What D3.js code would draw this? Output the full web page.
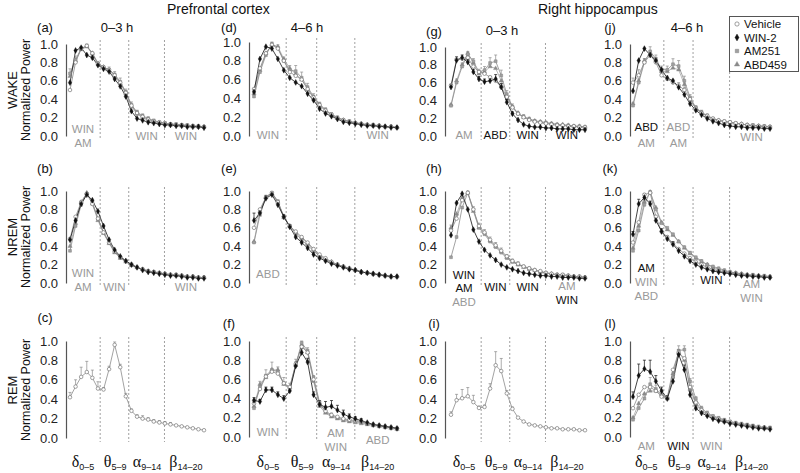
<!DOCTYPE html>
<html><head><meta charset="utf-8">
<script src="https://cdn.jsdelivr.net/npm/d3@7"></script>
<style>body{margin:0;background:#fff} svg{display:block} text{font-family:"Liberation Sans",Arial,Helvetica,sans-serif}</style>
</head><body><svg id="c" width="800" height="473"></svg>
<script>
// ---------------- DATA ----------------
const bins = [0.78,1.56,2.34,3.13,3.91,4.69,5.47,6.25,7.03,7.81,8.59,9.38,10.16,10.94,11.72,12.5,13.28,14.06,14.84,15.63,16.41,17.19,17.97,18.75,19.53];
const seriesNames = ["Vehicle","WIN-2","AM251","ABD459"];
const bandEdges = [5, 9, 14];
const bandLabels = [["δ","0–5"],["θ","5–9"],["α","9–14"],["β","14–20"]];
const yTicks = [0,0.2,0.4,0.6,0.8,1.0];
const stateLabels = ["WAKE","NREM","REM"];
const regionTitles = ["Prefrontal cortex","Right hippocampus"];
const timeLabels = ["0–3 h","4–6 h","0–3 h","4–6 h"];
const panelLetters = ["a","d","g","j","b","e","h","k","c","f","i","l"];

// WAKE, prefrontal 0-3 h
const aVeh = [0.50,0.80,0.95,0.98,0.90,0.79,0.75,0.72,0.66,0.58,0.47,0.33,0.25,0.21,0.18,0.16,0.15,0.14,0.13,0.12,0.12,0.11,0.11,0.10,0.10];
const aWin = [0.58,0.93,0.96,0.88,0.85,0.77,0.73,0.70,0.62,0.54,0.43,0.27,0.19,0.17,0.15,0.14,0.13,0.12,0.12,0.11,0.11,0.10,0.10,0.10,0.09];
const aAm  = [0.68,0.83,0.95,0.98,0.89,0.78,0.74,0.72,0.67,0.59,0.48,0.34,0.26,0.22,0.19,0.17,0.15,0.14,0.13,0.13,0.12,0.12,0.11,0.11,0.10];
const aAbd = [0.65,0.82,0.94,0.97,0.90,0.79,0.75,0.71,0.65,0.57,0.46,0.32,0.24,0.20,0.17,0.15,0.14,0.13,0.12,0.12,0.11,0.11,0.10,0.10,0.10];
const aAmErr = [0.05,0.04,0.02,0.02,0.02,0.02,0.02,0.03,0.03,0.04,0.03,0.03,0.02,0.02,0.02,0.01,0.01,0.01,0.01,0.01,0.01,0.01,0.01,0.01,0.01];
// WAKE, prefrontal 4-6 h
const dVeh = [0.50,0.72,0.88,0.97,0.93,0.80,0.68,0.64,0.60,0.50,0.41,0.33,0.27,0.23,0.19,0.17,0.15,0.14,0.13,0.12,0.11,0.11,0.10,0.10,0.09];
const dWin = [0.47,0.82,0.95,0.93,0.82,0.70,0.62,0.57,0.53,0.45,0.38,0.29,0.24,0.21,0.18,0.15,0.14,0.13,0.12,0.11,0.11,0.10,0.10,0.09,0.09];
const dAm  = [0.42,0.68,0.86,0.98,0.94,0.80,0.70,0.69,0.62,0.52,0.42,0.34,0.28,0.23,0.20,0.17,0.16,0.14,0.13,0.12,0.12,0.11,0.10,0.10,0.09];
const dAbd = [0.45,0.70,0.88,0.97,0.95,0.82,0.72,0.66,0.60,0.50,0.40,0.32,0.27,0.22,0.19,0.17,0.15,0.14,0.13,0.12,0.11,0.11,0.10,0.10,0.09];
const dAmErr = [0.03,0.04,0.03,0.02,0.03,0.04,0.05,0.06,0.06,0.04,0.03,0.02,0.02,0.02,0.01,0.01,0.01,0.01,0.01,0.01,0.01,0.01,0.01,0.01,0.01];
// WAKE, hippocampus 0-3 h
const gVeh = [0.57,0.86,0.87,0.88,0.78,0.72,0.70,0.66,0.62,0.55,0.44,0.32,0.25,0.21,0.18,0.16,0.15,0.14,0.13,0.12,0.12,0.11,0.11,0.10,0.10];
const gWin = [0.55,0.85,0.88,0.83,0.72,0.64,0.61,0.62,0.64,0.55,0.38,0.25,0.18,0.13,0.11,0.10,0.10,0.09,0.09,0.08,0.08,0.08,0.07,0.07,0.07];
const gAm  = [0.34,0.60,0.78,0.92,0.84,0.72,0.74,0.82,0.84,0.68,0.47,0.33,0.25,0.22,0.19,0.17,0.16,0.15,0.14,0.13,0.12,0.12,0.11,0.11,0.10];
const gAbd = [0.35,0.62,0.80,0.93,0.82,0.70,0.72,0.78,0.76,0.62,0.45,0.33,0.26,0.21,0.19,0.17,0.16,0.15,0.14,0.13,0.13,0.12,0.11,0.11,0.10];
const gWinErr = [0.03,0.04,0.03,0.03,0.03,0.03,0.03,0.05,0.05,0.04,0.03,0.02,0.01,0.01,0.01,0.01,0.01,0.01,0.01,0.01,0.01,0.01,0.01,0.01,0.01];
const gAmErr  = [0.02,0.04,0.04,0.03,0.03,0.03,0.04,0.06,0.07,0.06,0.04,0.03,0.02,0.02,0.02,0.01,0.01,0.01,0.01,0.01,0.01,0.01,0.01,0.01,0.01];
// WAKE, hippocampus 4-6 h
const jVeh = [0.58,0.66,0.80,0.88,0.80,0.66,0.62,0.58,0.55,0.50,0.40,0.30,0.25,0.22,0.19,0.17,0.16,0.15,0.14,0.13,0.12,0.11,0.11,0.10,0.10];
const jWin = [0.49,0.82,0.95,0.88,0.82,0.72,0.63,0.60,0.53,0.45,0.35,0.28,0.23,0.19,0.16,0.14,0.12,0.11,0.10,0.10,0.09,0.09,0.09,0.08,0.08];
const jAm  = [0.33,0.58,0.80,0.92,0.84,0.72,0.72,0.78,0.76,0.60,0.42,0.31,0.26,0.22,0.19,0.17,0.16,0.15,0.14,0.13,0.12,0.12,0.11,0.11,0.10];
const jAbd = [0.35,0.60,0.82,0.90,0.82,0.70,0.70,0.74,0.72,0.56,0.40,0.30,0.25,0.21,0.18,0.17,0.15,0.14,0.13,0.13,0.12,0.11,0.11,0.10,0.10];
const jVehErr = [0.05,0.06,0.04,0.04,0.03,0.03,0.03,0.03,0.03,0.03,0.02,0.02,0.02,0.01,0.01,0.01,0.01,0.01,0.01,0.01,0.01,0.01,0.01,0.01,0.01];
const jAmErr  = [0.03,0.04,0.04,0.05,0.04,0.04,0.04,0.06,0.06,0.05,0.03,0.02,0.02,0.02,0.01,0.01,0.01,0.01,0.01,0.01,0.01,0.01,0.01,0.01,0.01];
// NREM, prefrontal 0-3 h
const bVeh = [0.48,0.72,0.88,0.97,0.86,0.70,0.55,0.44,0.34,0.28,0.24,0.20,0.17,0.15,0.13,0.12,0.11,0.10,0.09,0.09,0.08,0.07,0.07,0.06,0.06];
const bWin = [0.47,0.68,0.86,0.96,0.90,0.78,0.62,0.47,0.36,0.29,0.24,0.20,0.17,0.14,0.12,0.11,0.10,0.09,0.08,0.08,0.07,0.06,0.06,0.05,0.05];
const bAm  = [0.35,0.62,0.85,0.97,0.88,0.70,0.55,0.44,0.34,0.28,0.24,0.20,0.17,0.15,0.13,0.12,0.11,0.10,0.09,0.09,0.08,0.07,0.07,0.06,0.06];
const bAbd = [0.40,0.65,0.88,0.98,0.86,0.68,0.54,0.43,0.33,0.27,0.23,0.19,0.17,0.15,0.13,0.12,0.11,0.10,0.09,0.08,0.08,0.07,0.07,0.06,0.06];
// NREM, prefrontal 4-6 h
const eVeh = [0.60,0.80,0.93,0.98,0.88,0.72,0.62,0.56,0.50,0.44,0.37,0.31,0.27,0.23,0.20,0.18,0.16,0.14,0.12,0.11,0.10,0.09,0.08,0.07,0.07];
const eWin = [0.68,0.76,0.92,0.96,0.85,0.72,0.61,0.50,0.44,0.38,0.31,0.27,0.24,0.21,0.19,0.17,0.15,0.14,0.12,0.11,0.10,0.09,0.08,0.07,0.07];
const eAm  = [0.44,0.74,0.94,0.98,0.89,0.72,0.62,0.54,0.47,0.41,0.35,0.29,0.25,0.22,0.20,0.17,0.15,0.14,0.12,0.11,0.10,0.09,0.08,0.07,0.07];
const eAbd = [0.45,0.78,0.93,0.97,0.88,0.71,0.62,0.55,0.49,0.43,0.36,0.30,0.26,0.23,0.20,0.18,0.16,0.14,0.12,0.11,0.10,0.09,0.08,0.07,0.07];
const eWinErr = [0.08,0.03,0.02,0.02,0.02,0.02,0.02,0.03,0.03,0.03,0.02,0.02,0.01,0.01,0.01,0.01,0.01,0.01,0.01,0.01,0.01,0.01,0.01,0.01,0.01];
// NREM, hippocampus 0-3 h
const hVeh = [0.57,0.70,0.90,0.98,0.80,0.62,0.55,0.47,0.41,0.35,0.29,0.24,0.21,0.18,0.16,0.14,0.13,0.11,0.10,0.09,0.09,0.08,0.07,0.07,0.06];
const hWin = [0.52,0.87,0.97,0.80,0.58,0.45,0.36,0.30,0.25,0.20,0.17,0.15,0.13,0.11,0.10,0.09,0.08,0.08,0.07,0.07,0.06,0.06,0.06,0.05,0.05];
const hAm  = [0.28,0.50,0.82,0.98,0.80,0.60,0.53,0.45,0.39,0.33,0.27,0.23,0.20,0.18,0.16,0.14,0.12,0.11,0.10,0.09,0.09,0.08,0.07,0.07,0.06];
const hAbd = [0.60,0.75,0.92,0.98,0.78,0.60,0.55,0.46,0.40,0.34,0.28,0.23,0.20,0.17,0.15,0.14,0.12,0.11,0.10,0.09,0.08,0.08,0.07,0.07,0.06];
const hVehErr = [0.06,0.05,0.03,0.02,0.03,0.03,0.03,0.03,0.03,0.03,0.02,0.02,0.02,0.01,0.01,0.01,0.01,0.01,0.01,0.01,0.01,0.01,0.01,0.01,0.01];
// NREM, hippocampus 4-6 h
const kVeh = [0.44,0.66,0.96,0.98,0.72,0.56,0.50,0.43,0.37,0.32,0.27,0.23,0.20,0.17,0.15,0.13,0.12,0.11,0.10,0.09,0.08,0.08,0.07,0.07,0.06];
const kWin = [0.53,0.86,0.93,0.86,0.68,0.56,0.48,0.42,0.35,0.29,0.24,0.20,0.17,0.15,0.13,0.12,0.11,0.10,0.09,0.08,0.08,0.07,0.07,0.06,0.06];
const kAm  = [0.35,0.57,0.85,0.99,0.80,0.65,0.60,0.53,0.45,0.39,0.33,0.28,0.24,0.20,0.18,0.16,0.14,0.12,0.11,0.10,0.09,0.09,0.08,0.08,0.07];
const kAbd = [0.38,0.62,0.88,0.99,0.82,0.66,0.58,0.52,0.45,0.38,0.32,0.27,0.23,0.20,0.17,0.15,0.13,0.12,0.11,0.10,0.09,0.08,0.08,0.07,0.07];
const kWinErr = [0.03,0.05,0.04,0.03,0.03,0.03,0.03,0.03,0.02,0.02,0.02,0.02,0.01,0.01,0.01,0.01,0.01,0.01,0.01,0.01,0.01,0.01,0.01,0.01,0.01];
// REM, prefrontal 0-3 h (vehicle only)
const cVeh = [0.42,0.53,0.63,0.68,0.62,0.51,0.50,0.71,0.96,0.73,0.43,0.28,0.22,0.20,0.19,0.17,0.16,0.15,0.14,0.13,0.12,0.11,0.10,0.09,0.08];
const cVehErr = [0.05,0.07,0.10,0.11,0.08,0.07,0.02,0.03,0.03,0.03,0.03,0.02,0.02,0.03,0.02,0.02,0.02,0.02,0.02,0.01,0.01,0.01,0.01,0.01,0.01];
// REM, prefrontal 4-6 h
const fVeh = [0.35,0.50,0.63,0.68,0.66,0.56,0.52,0.76,0.94,0.88,0.60,0.34,0.27,0.23,0.21,0.19,0.18,0.17,0.16,0.14,0.13,0.12,0.11,0.10,0.09];
const fWin = [0.38,0.37,0.49,0.49,0.44,0.40,0.48,0.74,0.88,0.78,0.44,0.34,0.31,0.32,0.28,0.24,0.21,0.19,0.17,0.15,0.13,0.12,0.11,0.10,0.09];
const fAm  = [0.30,0.52,0.64,0.70,0.68,0.56,0.50,0.75,0.98,0.90,0.62,0.36,0.26,0.22,0.20,0.18,0.17,0.16,0.15,0.14,0.13,0.12,0.11,0.10,0.09];
const fAbd = [0.32,0.55,0.62,0.70,0.70,0.55,0.52,0.75,0.96,0.88,0.58,0.32,0.25,0.21,0.19,0.17,0.16,0.15,0.14,0.13,0.12,0.11,0.10,0.09,0.08];
const fVehErr = [0.04,0.08,0.07,0.10,0.07,0.06,0.04,0.05,0.06,0.05,0.04,0.02,0.02,0.02,0.01,0.01,0.01,0.01,0.01,0.01,0.01,0.01,0.01,0.01,0.01];
const fWinErr = [0.03,0.02,0.03,0.03,0.03,0.03,0.03,0.04,0.04,0.04,0.03,0.04,0.06,0.06,0.05,0.04,0.03,0.02,0.02,0.01,0.01,0.01,0.01,0.01,0.01];
// REM, hippocampus 0-3 h (vehicle only)
const iVeh = [0.24,0.39,0.41,0.43,0.37,0.31,0.32,0.51,0.75,0.69,0.46,0.30,0.21,0.17,0.14,0.13,0.12,0.11,0.10,0.10,0.09,0.09,0.09,0.08,0.08];
const iVehErr = [0.03,0.06,0.09,0.09,0.07,0.02,0.02,0.05,0.14,0.13,0.03,0.02,0.01,0.01,0.01,0.01,0.01,0.01,0.01,0.01,0.01,0.01,0.01,0.01,0.01];
// REM, hippocampus 4-6 h
const lVeh = [0.30,0.44,0.52,0.52,0.48,0.42,0.41,0.70,0.88,0.82,0.52,0.36,0.28,0.24,0.21,0.19,0.17,0.16,0.14,0.13,0.12,0.11,0.10,0.10,0.09];
const lWin = [0.42,0.64,0.71,0.68,0.58,0.48,0.40,0.58,0.86,0.70,0.44,0.30,0.25,0.22,0.19,0.17,0.16,0.14,0.13,0.12,0.11,0.10,0.09,0.09,0.08];
const lAm  = [0.18,0.30,0.40,0.55,0.50,0.44,0.40,0.62,0.90,0.91,0.58,0.40,0.30,0.25,0.22,0.20,0.18,0.16,0.15,0.14,0.13,0.12,0.11,0.10,0.10];
const lAbd = [0.20,0.35,0.45,0.48,0.48,0.44,0.40,0.66,0.88,0.80,0.50,0.34,0.27,0.23,0.20,0.18,0.16,0.15,0.14,0.13,0.12,0.11,0.10,0.09,0.09];
const lWinErr = [0.05,0.12,0.09,0.12,0.06,0.04,0.03,0.04,0.05,0.05,0.04,0.03,0.02,0.02,0.02,0.01,0.01,0.01,0.01,0.01,0.01,0.01,0.01,0.01,0.01];
const lAmErr  = [0.03,0.04,0.05,0.07,0.04,0.03,0.03,0.05,0.05,0.04,0.03,0.02,0.02,0.02,0.01,0.01,0.01,0.01,0.01,0.01,0.01,0.01,0.01,0.01,0.01];

// Significance annotations: panel, band index, text, dark(1)/gray(0), vertical offset
const annotations = [
 ["a",0,"WIN",0,-7],["a",0,"AM",0,7],["a",2,"WIN",0,0],["a",3,"WIN",0,0],
 ["d",0,"WIN",0,-1],["d",3,"WIN",0,-1],
 ["g",0,"AM",0,-1],["g",1,"ABD",1,-1],["g",2,"WIN",1,-1],["g",3,"WIN",1,-1],
 ["j",0,"ABD",1,-9],["j",0,"AM",0,7],["j",1,"ABD",0,-9],["j",1,"AM",0,7],["j",3,"WIN",0,1],
 ["b",0,"WIN",0,-10],["b",0,"AM",0,4],["b",1,"WIN",0,4],["b",3,"WIN",0,4],
 ["e",0,"ABD",0,-9],
 ["h",0,"WIN",1,-8.5],["h",0,"AM",1,5],["h",0,"ABD",0,18.5],["h",1,"WIN",1,4],["h",2,"WIN",1,4],["h",3,"AM",0,3],["h",3,"WIN",1,16.5],
 ["k",0,"AM",1,-15],["k",0,"WIN",0,-1],["k",0,"ABD",0,13],["k",2,"WIN",1,-3],["k",3,"AM",0,1],["k",3,"WIN",0,14.5],
 ["f",0,"WIN",0,-5],["f",2,"AM",0,-4],["f",2,"WIN",0,10],["f",3,"ABD",0,3],
 ["l",0,"AM",0,9],["l",1,"WIN",1,9],["l",2,"WIN",0,9]
];

// ---------------- LAYOUT ----------------
const cols = [
 {axis:66, x0:70, x1:204, lab:45, time:117},
 {axis:249, x0:254, x1:397, lab:229, time:307},
 {axis:445, x0:451, x1:585, lab:434, time:502},
 {axis:630, x0:633, x1:770, lab:610, time:687}
];
const rows = [
 {y0:136, y1:44, lab:27, mid:90},
 {y0:283, y1:191, lab:168, mid:237},
 {y0:438, y1:341, lab:323, mid:390}
];
const annX = [2.6, 7.0, 11.5, 17.0];
const bandX = [2.6, 7.1, 11.55, 17.0];
const GRAY = "#9a9a9a", DARK = "#111";

const panels = {
 a:{s:[aVeh,aWin,aAm,aAbd], e:[null,null,aAmErr,null]},
 d:{s:[dVeh,dWin,dAm,dAbd], e:[null,null,dAmErr,null]},
 g:{s:[gVeh,gWin,gAm,gAbd], e:[null,gWinErr,gAmErr,null]},
 j:{s:[jVeh,jWin,jAm,jAbd], e:[jVehErr,null,jAmErr,null]},
 b:{s:[bVeh,bWin,bAm,bAbd], e:[null,null,null,null]},
 e:{s:[eVeh,eWin,eAm,eAbd], e:[null,eWinErr,null,null]},
 h:{s:[hVeh,hWin,hAm,hAbd], e:[hVehErr,null,null,null]},
 k:{s:[kVeh,kWin,kAm,kAbd], e:[null,kWinErr,null,null]},
 c:{s:[cVeh,null,null,null], e:[cVehErr,null,null,null]},
 f:{s:[fVeh,fWin,fAm,fAbd], e:[fVehErr,fWinErr,null,null]},
 i:{s:[iVeh,null,null,null], e:[iVehErr,null,null,null]},
 l:{s:[lVeh,lWin,lAm,lAbd], e:[null,lWinErr,lAmErr,null]}
};
const overrides = {d:{y1:42}, g:{y1:47}, f:{y0:437}, l:{y0:437}};

const style = [
 {line:"#8a8a8a", sym:d3.symbolCircle, size:10, fill:"#fff", stroke:"#777", sw:0.7},
 {line:"#111", sym:d3.symbolDiamond, size:10, fill:"#111", stroke:"#111", sw:0.4},
 {line:"#8c8c8c", sym:d3.symbolSquare, size:8, fill:"#a0a0a0", stroke:"#808080", sw:0.5},
 {line:"#a8a8a8", sym:d3.symbolTriangle, size:8, fill:"#8a8a8a", stroke:"#888", sw:0.4}
];
const drawOrder = [3,2,0,1];

const svg = d3.select("#c");

// Titles
svg.append("text").attr("x",167).attr("y",14).attr("font-size",14).attr("fill","#111").text(regionTitles[0]);
svg.append("text").attr("x",538).attr("y",14).attr("font-size",14).attr("fill","#111").text(regionTitles[1]);

// Row labels
rows.forEach((r,ri)=>{
  svg.append("text").attr("transform",`translate(12,${r.mid}) rotate(-90)`).attr("text-anchor","middle")
    .attr("dominant-baseline","central").attr("font-size",13).attr("fill","#111").text(stateLabels[ri]);
  svg.append("text").attr("transform",`translate(26,${r.mid}) rotate(-90)`).attr("text-anchor","middle")
    .attr("dominant-baseline","central").attr("font-size",12.5).attr("fill","#111").text("Normalized Power");
});

panelLetters.forEach((id,pi)=>{
  const ci = pi%4, ri = Math.floor(pi/4);
  const col = cols[ci], row = rows[ri];
  const ov = overrides[id]||{};
  const y0 = ov.y0!==undefined?ov.y0:row.y0, y1 = ov.y1!==undefined?ov.y1:row.y1;
  const x = d3.scaleLinear().domain([bins[0], bins[bins.length-1]]).range([col.x0, col.x1]);
  const y = d3.scaleLinear().domain([0,1]).range([y0,y1]);
  const g = svg.append("g");

  // dashed band edges
  g.selectAll("line.edge").data(bandEdges).enter().append("line")
    .attr("x1",d=>x(d)).attr("x2",d=>x(d)).attr("y1",y(1)-4).attr("y2",y(0)+4)
    .attr("stroke","#888").attr("stroke-width",0.8).attr("stroke-dasharray","2,2");

  // y axis
  const ax = g.append("g").attr("transform",`translate(${col.axis},0)`)
    .call(d3.axisLeft(y).tickValues(yTicks).tickFormat(d3.format(".1f")).tickSize(0).tickPadding(8));
  ax.select(".domain").attr("stroke","#555").attr("stroke-width",1.2);
  ax.selectAll("text").attr("font-size",13).attr("fill","#222").attr("font-family","'Liberation Sans',Arial,sans-serif");

  // panel label
  g.append("text").attr("x",col.lab).attr("y",id==="g"?31:(id==="c"?317:row.lab)).attr("text-anchor","middle")
    .attr("dominant-baseline","central").attr("font-size",13).attr("fill","#111").text(`(${id})`);
  if(ri===0){
    g.append("text").attr("x",col.time).attr("y",id==="g"?30:27).attr("text-anchor","middle")
      .attr("dominant-baseline","central").attr("font-size",13).attr("fill","#111").text(timeLabels[ci]);
  }

  const P = panels[id];
  const line = d3.line().x((d,i)=>x(bins[i])).y(d=>y(d));
  drawOrder.forEach(si=>{
    const vals = P.s[si]; if(!vals) return;
    g.append("path").datum(vals).attr("d",line).attr("fill","none")
      .attr("stroke",style[si].line).attr("stroke-width",0.8);
  });
  drawOrder.forEach(si=>{
    const vals = P.s[si], err = P.e[si]; if(!vals||!err) return;
    const eg = g.append("g").attr("stroke",style[si].line).attr("stroke-width",0.7);
    vals.forEach((v,i)=>{
      if(err[i]<=0.015) return;
      const xx = x(bins[i]);
      eg.append("line").attr("x1",xx).attr("x2",xx).attr("y1",y(v)).attr("y2",y(v+err[i]));
      eg.append("line").attr("x1",xx-1.5).attr("x2",xx+1.5).attr("y1",y(v+err[i])).attr("y2",y(v+err[i]));
    });
  });
  drawOrder.forEach(si=>{
    const vals = P.s[si]; if(!vals) return;
    const st = style[si];
    g.selectAll(null).data(vals).enter().append("path")
      .attr("d",d3.symbol().type(st.sym).size(st.size))
      .attr("transform",(d,i)=>`translate(${x(bins[i])},${y(d)})`)
      .attr("fill",st.fill).attr("stroke",st.stroke).attr("stroke-width",st.sw);
  });

  // annotations
  annotations.filter(a=>a[0]===id).forEach(a=>{
    g.append("text").attr("x",x(annX[a[1]])).attr("y",y(0)+a[4]).attr("text-anchor","middle")
      .attr("dominant-baseline","central").attr("font-size",11.5).attr("fill",a[3]?DARK:GRAY).text(a[2]);
  });

  // band labels at bottom row
  if(ri===2){
    bandLabels.forEach((b,bi)=>{
      const t = g.append("text").attr("x",x(bandX[bi])).attr("y",467).attr("text-anchor","middle").attr("fill","#111");
      t.append("tspan").attr("font-family","'Liberation Serif','Times New Roman',serif").attr("font-size",16).text(b[0]);
      t.append("tspan").attr("font-size",9).attr("dy",3).text(b[1]);
    });
  }
});

// Legend
const lg = svg.append("g");
lg.append("rect").attr("x",729.5).attr("y",16.5).attr("width",69).attr("height",55)
  .attr("fill","#fff").attr("stroke","#555").attr("stroke-width",1);
seriesNames.forEach((n,i)=>{
  const yy = 24 + i*13.5;
  const st = style[i];
  lg.append("path").attr("d",d3.symbol().type(st.sym).size(st.size+4)).attr("transform",`translate(737,${yy})`)
    .attr("fill",st.fill).attr("stroke",st.stroke).attr("stroke-width",st.sw);
  lg.append("text").attr("x",744).attr("y",yy).attr("dominant-baseline","central").attr("font-size",11.5).attr("fill","#111").text(n);
});
</script></body></html>
